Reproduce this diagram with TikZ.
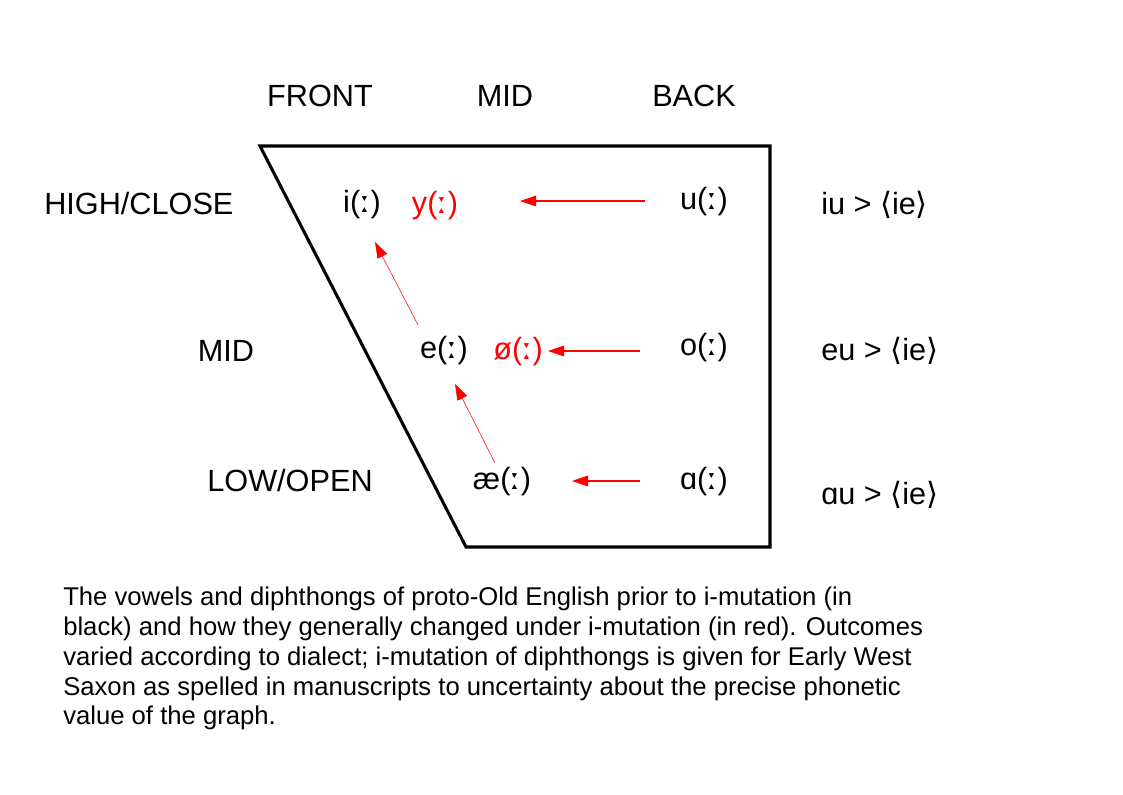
\documentclass[tikz,border=0pt]{standalone}
\usepackage{fontspec}
\setmainfont{Liberation Sans}
\newfontfamily\dvs{DejaVu Sans}
\usetikzlibrary{arrows.meta}
\definecolor{shiftred}{RGB}{255,0,0}
\tikzset{
  lbl/.style={font=\fontsize{23}{27}\selectfont, inner sep=0pt},
  vow/.style={font=\fontsize{23}{27}\selectfont, inner sep=0pt},
  chg/.style={vow, text=shiftred},
  soundshift/.style={draw=shiftred, line width=0.8pt, -{Triangle[length=12pt,width=8pt]}},
  thinsoundshift/.style={draw=shiftred, line width=0.4pt, -{Triangle[length=12pt,width=8pt]}},
  chart/.style={draw=black, line width=2.3pt, line join=miter}
}
\newcommand{\lng}{({\dvs ː})}
\newcommand{\ang}[1]{{\dvs ⟨}#1{\dvs ⟩}}
\begin{document}
\begin{tikzpicture}[x=0.75pt,y=-0.75pt]
\useasboundingbox (0,0) rectangle (1123,794);
% chart
\draw[chart] (260,146) -- (770,146) -- (770,547) -- (466,547) -- cycle;
% column headings
\node[lbl] (front) at (320,96) {FRONT};
\node[lbl] (midtop) at (505,96) {MID};
\node[lbl] (back) at (694,96) {BACK};
% row headings
\node[lbl, anchor=west] (high) at (44,204) {HIGH/CLOSE};
\node[lbl] (midleft) at (226,351) {MID};
\node[lbl] (low) at (290,481) {LOW/OPEN};
% vowels
\node[vow] (i) at (362,205) {i\lng};
\node[chg] (y) at (435,206) {y\lng};
\node[vow] (u) at (704,202) {u\lng};
\node[vow] (e) at (444,351) {e\lng};
\node[chg] (oe) at (518,352) {ø\lng};
\node[vow] (o) at (704,348) {o\lng};
\node[vow] (ae) at (502,482) {æ\lng};
\node[vow] (a) at (704,482) {ɑ\lng};
% diphthongs
\node[lbl, anchor=west] (iu) at (821,205) {iu > \ang{ie}};
\node[lbl, anchor=west] (eu) at (821,351) {eu > \ang{ie}};
\node[lbl, anchor=west] (au) at (821,495) {ɑu > \ang{ie}};
% arrow ends
\coordinate (uS) at (645,201);
\coordinate (uE) at (520,201);
\coordinate (oS) at (640,351);
\coordinate (oE) at (548,351);
\coordinate (aS) at (640,481);
\coordinate (aE) at (572,481);
\coordinate (eS) at (418,325);
\coordinate (eE) at (375,242);
\coordinate (aeS) at (495,463);
\coordinate (aeE) at (455,384);
\draw[soundshift] (uS) -- (uE);
\draw[soundshift] (oS) -- (oE);
\draw[soundshift] (aS) -- (aE);
\draw[thinsoundshift] (eS) -- (eE);
\draw[thinsoundshift] (aeS) -- (aeE);
% caption
\node[anchor=north west, align=left, inner sep=0pt,
      font=\fontsize{19.25}{22.3}\selectfont] (caption) at (63,587)
{The vowels and diphthongs of proto-Old English prior to i-mutation (in\\
black) and how they generally changed under i-mutation (in red). Outcomes\\
varied according to dialect; i-mutation of diphthongs is given for Early West\\
Saxon as spelled in manuscripts to uncertainty about the precise phonetic\\
value of the graph.};
\end{tikzpicture}
\end{document}
